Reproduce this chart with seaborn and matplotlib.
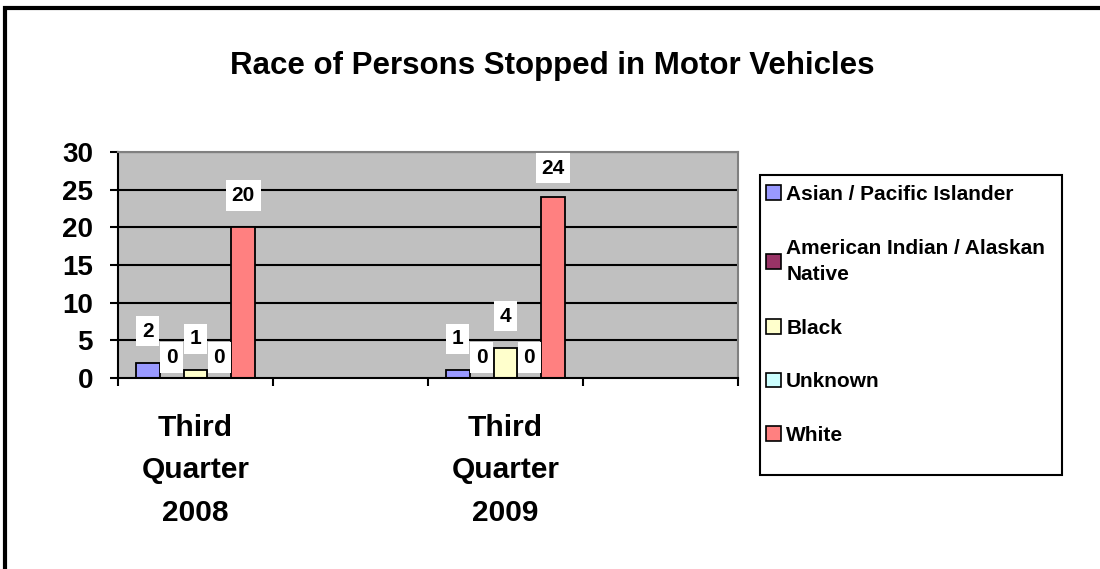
import matplotlib
matplotlib.use("Agg")
import matplotlib.pyplot as plt
import numpy as np
import pandas as pd
import seaborn as sns
from matplotlib.patches import Patch

# Chart data
quarters = ["Third\nQuarter\n2008", "Third\nQuarter\n2009"]
races = ["Asian / Pacific Islander", "American Indian / Alaskan\nNative",
         "Black", "Unknown", "White"]
q2008 = [2, 0, 1, 0, 20]
q2009 = [1, 0, 4, 0, 24]
race_colors = ["#9999FF", "#993366", "#FFFFCC", "#CCFFFF", "#FF8080"]

# Excel chart keeps an empty category slot after each quarter
x_order = [quarters[0], " ", quarters[1], "  "]

df = pd.DataFrame({
    "Quarter": [quarters[0]] * len(races) + [quarters[1]] * len(races),
    "Race": races * 2,
    "Count": q2008 + q2009,
})

sns.set_theme(style="white")
plt.rcParams["font.family"] = ["Liberation Sans", "DejaVu Sans"]
plt.rcParams["font.weight"] = "bold"
plt.rcParams["text.color"] = "black"
plt.rcParams["xtick.color"] = "black"
plt.rcParams["ytick.color"] = "black"

fig = plt.figure(figsize=(11, 5.69), dpi=100)
ax = fig.add_axes([0.1073, 0.3357, 0.5636, 0.3972])

sns.barplot(data=df, x="Quarter", y="Count", hue="Race", order=x_order,
            hue_order=races, palette=race_colors, width=0.77, saturation=1,
            edgecolor="black", linewidth=1.3, legend=False, ax=ax)

ax.set_facecolor("#C0C0C0")
ax.set_ylim(0, 30)
ax.set_xlim(-0.5, 3.5)
ax.set_yticks(np.arange(0, 31, 5))
for y in np.arange(5, 31, 5):
    ax.axhline(y, color="black", linewidth=1.5, zorder=0.5)

# category boundaries as major ticks, labels on minor ticks
ax.set_xticks(np.arange(-0.5, 4.0, 1.0))
ax.set_xticklabels([])
ax.set_xticks(np.arange(0, 4), minor=True)
ax.set_xticklabels(x_order, minor=True)
ax.tick_params(axis="x", which="minor", length=0, pad=26, labelsize=21.5)
ax.tick_params(axis="x", which="major", direction="out", length=6, width=1.5,
               bottom=True)
ax.tick_params(axis="y", direction="out", length=6, width=1.5,
               left=True, labelsize=20, pad=12)
for lbl in ax.get_xticklabels(minor=True):
    lbl.set_fontweight("bold")
    lbl.set_linespacing(1.65)
for lbl in ax.get_yticklabels():
    lbl.set_fontweight("bold")

ax.set_xlabel("")
ax.set_ylabel("")
for side in ["left", "bottom"]:
    ax.spines[side].set_color("black")
    ax.spines[side].set_linewidth(1.5)
for side in ["top", "right"]:
    ax.spines[side].set_color("#808080")
    ax.spines[side].set_linewidth(1.5)

# data labels in white boxes; Excel sits the zero labels lower
labels = []
for cont in ax.containers:
    vals = [b.get_height() for b in cont]
    pad = 8 if max(vals) == 0 else 16
    labels += ax.bar_label(cont, fmt="%g", padding=pad, fontsize=15,
                           fontweight="bold",
                           bbox=dict(facecolor="white", edgecolor="none", pad=4))

# keep label boxes inside the plot area, as Excel does
fig.canvas.draw()
renderer = fig.canvas.get_renderer()
ax_top = ax.get_window_extent(renderer).y1
for t in labels:
    box = t.get_bbox_patch().get_window_extent(renderer)
    over = box.y1 - ax_top
    if over > -1:
        t.xyann = (t.xyann[0], t.xyann[1] - (over + 1) * 72 / fig.dpi)

fig.text(552 / 1100, 1 - 66 / 569, "Race of Persons Stopped in Motor Vehicles",
         ha="center", va="center", fontsize=22.5, fontweight="bold")

# legend, with its frame drawn as the Excel legend box
fig.add_artist(plt.Rectangle((760 / 1100, 1 - 475 / 569), 302 / 1100, 300 / 569,
                             transform=fig.transFigure, facecolor="white",
                             edgecolor="black", linewidth=1.5, zorder=1))
handles = [Patch(facecolor=c, edgecolor="black", linewidth=1.2) for c in race_colors]
leg = fig.legend(handles, races, loc="upper left",
                 bbox_to_anchor=(766 / 1100, 1 - 185 / 569),
                 frameon=False, prop={"size": 15, "weight": "bold"},
                 handlelength=0.72, handleheight=0.72, handletextpad=0.25,
                 labelspacing=1.66, borderpad=0, borderaxespad=0)
leg.set_zorder(2)
leg.get_texts()[1].set_linespacing(1.5)

# outer chart-area border
fig.add_artist(plt.Rectangle((5 / 1100, -0.05), 1.2, 1 - 8 / 569 + 0.05,
                             transform=fig.transFigure, fill=False,
                             edgecolor="black", linewidth=3))

fig.savefig("out.png", dpi=100)
